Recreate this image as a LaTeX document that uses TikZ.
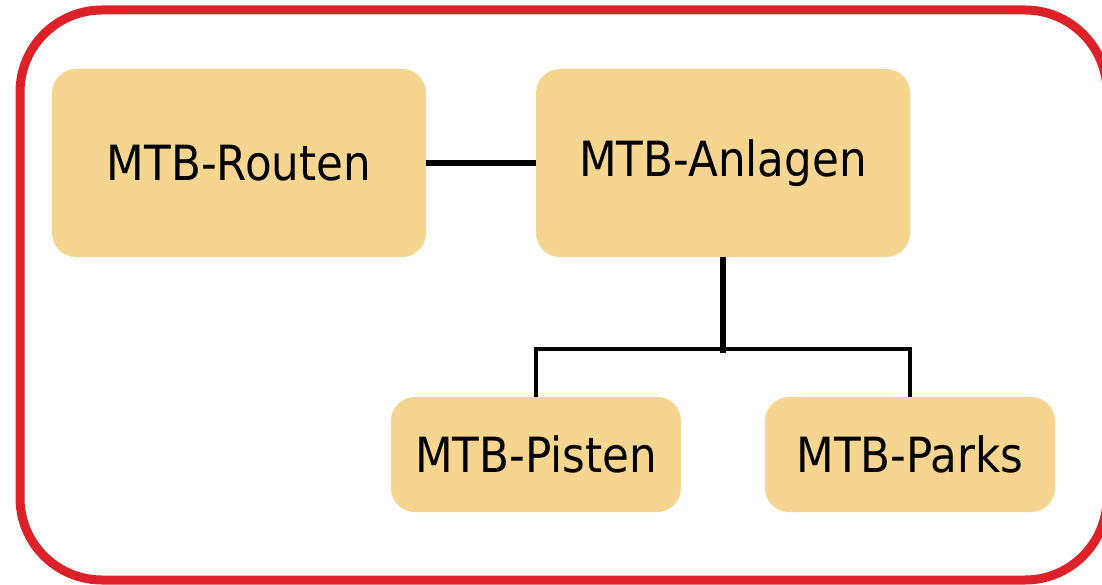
\documentclass[tikz,border=0pt]{standalone}
\usepackage{fontspec}
\setmainfont{DejaVu Sans Condensed}
\definecolor{boxfill}{HTML}{F6D590}
\definecolor{frame}{HTML}{DD2128}
\tikzset{
  box/.style={fill=boxfill, draw=none, rounded corners=24pt, inner sep=0pt,
    font=\fontsize{48.5}{58}\selectfont, text=black},
  bigbox/.style={box, minimum width=374pt, minimum height=188pt},
  smallbox/.style={box, minimum width=290pt, minimum height=115pt},
  thick link/.style={draw=black, line width=6pt},
  thin link/.style={draw=black, line width=4pt},
}
\begin{document}
\begin{tikzpicture}[x=1pt, y=-1pt]
\useasboundingbox (0,0) rectangle (1102,585);
\begin{scope}
\clip (0,0) rectangle (1102,585);
\draw[frame, line width=9pt, rounded corners=82pt] (20,10) rectangle (1107,580);
\end{scope}
\node[bigbox] (routen) at (239,163) {\raisebox{-2pt}{MTB-Routen}};
\node[bigbox] (anlagen) at (723,163) {\raisebox{-2pt}{MTB-Anlagen}};
\node[smallbox] (pisten) at (536,454.5) {\raisebox{-2pt}{MTB-Pisten}};
\node[smallbox] (parks) at (910,454.5) {\raisebox{-2pt}{MTB-Parks}};
\coordinate (stem) at (723,353);
\coordinate (j) at (723,349);
\draw[thick link] (routen.east) -- (anlagen.west);
\draw[thick link] (anlagen.south) -- (stem);
\draw[thin link] (pisten.north) |- (j) -| (parks.north);
\end{tikzpicture}
\end{document}
